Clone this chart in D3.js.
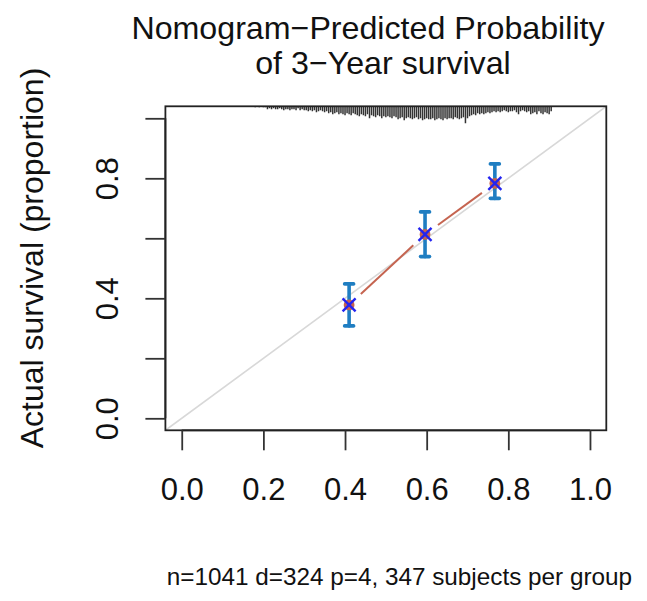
<!DOCTYPE html>
<html><head><meta charset="utf-8">
<script src="https://cdn.jsdelivr.net/npm/d3@7/dist/d3.min.js"></script>
<style>body{margin:0;background:#fff} svg{display:block}</style>
</head><body><svg id="c" width="647" height="601"></svg>
<script>
// ---- data ----
const predicted = [0.410, 0.596, 0.767];
const observed  = [0.378, 0.613, 0.783];
const lowerCI   = [0.308, 0.539, 0.733];
const upperCI   = [0.448, 0.688, 0.848];
const corrected = [0.378, 0.613, 0.783];
const xTicks = [0, 0.2, 0.4, 0.6, 0.8, 1.0];
const xTickLabels = ["0.0", "0.2", "0.4", "0.6", "0.8", "1.0"];
const yTicks = [0, 0.2, 0.4, 0.6, 0.8, 1.0];
const yTickLabels = ["0.0", "", "0.4", "", "0.8", ""];
const rugPred = [
 0.160,0.165,0.170,0.175,0.180,0.185,0.190,0.195,0.200,0.205,
 0.210,0.215,0.220,0.225,0.230,0.235,0.240,0.245,0.250,0.255,
 0.260,0.265,0.270,0.275,0.280,0.285,0.290,0.295,0.300,0.305,
 0.310,0.315,0.320,0.325,0.330,0.335,0.340,0.345,0.350,0.355,
 0.360,0.365,0.370,0.375,0.380,0.385,0.390,0.395,0.400,0.405,
 0.410,0.415,0.420,0.425,0.430,0.435,0.440,0.445,0.450,0.455,
 0.460,0.465,0.470,0.475,0.480,0.485,0.490,0.495,0.500,0.505,
 0.510,0.515,0.520,0.525,0.530,0.535,0.540,0.545,0.550,0.555,
 0.560,0.565,0.570,0.575,0.580,0.585,0.590,0.595,0.600,0.605,
 0.610,0.615,0.620,0.625,0.630,0.635,0.640,0.645,0.650,0.655,
 0.660,0.665,0.670,0.675,0.680,0.685,0.690,0.695,0.700,0.705,
 0.710,0.715,0.720,0.725,0.730,0.735,0.740,0.745,0.750,0.755,
 0.760,0.765,0.770,0.775,0.780,0.785,0.790,0.795,0.800,0.805,
 0.810,0.815,0.820,0.825,0.830,0.835,0.840,0.845,0.850,0.855,
 0.860,0.865,0.870,0.875,0.880,0.885,0.890,0.895,0.900,0.905];
const rugCount = [
 0.5,0.5,0.5,0.5,1,0.5,1,0.5,1,1,
 3,2,3,2,3,3,2,3,4,3,
 3,4,3,3,4,2,4,3,4,4,
 5,4,5,4,6,5,4,5,6,5,
 7,6,8,7,6,8,7,8,9,7,
 8,9,7,8,9,10,8,9,10,8,
 12,9,10,11,9,10,12,10,11,10,
 11,12,10,11,13,12,11,14,12,11,
 12,13,12,11,13,12,14,13,12,13,
 13,12,14,13,12,13,14,12,13,12,
 12,13,11,12,13,12,11,17,12,10,
 9,8,9,7,8,7,8,7,6,7,
 6,5,6,5,6,5,4,5,6,5,
 5,4,6,8,5,4,5,6,5,8,
 7,6,8,5,7,8,6,7,8,5];
const titleLines = ["Nomogram\u2212Predicted Probability", "of 3\u2212Year survival"];
const yTitle = "Actual survival (proportion)";
const subTitle = "n=1041 d=324 p=4, 347 subjects per group";

// ---- drawing ----
const svg = d3.select("#c");
const FONT = "'Liberation Sans', Arial, Helvetica, sans-serif";
const x = d3.scaleLinear().domain([-0.04, 1.04]).range([165.4, 606.3]);
const y = d3.scaleLinear().domain([-0.04, 1.04]).range([430.3, 106.3]);

svg.append("defs").append("clipPath").attr("id", "clip")
  .append("rect").attr("x", x(-0.04)).attr("y", y(1.04))
  .attr("width", x(1.04) - x(-0.04)).attr("height", y(-0.04) - y(1.04));

const plot = svg.append("g").attr("clip-path", "url(#clip)");

// diagonal reference
plot.append("line")
  .attr("x1", x(-0.04)).attr("y1", y(-0.04))
  .attr("x2", x(1.04)).attr("y2", y(1.04))
  .attr("stroke", "#d8d8d8").attr("stroke-width", 1.6);

// rug (scat1d on top side)
const rugH = d3.scaleLinear().domain([0, d3.max(rugCount)]).range([0, 17]);
plot.append("g").selectAll("line").data(rugPred).join("line")
  .attr("x1", d => x(d)).attr("x2", d => x(d))
  .attr("y1", y(1.04)).attr("y2", (d, i) => y(1.04) + rugH(rugCount[i]))
  .attr("stroke", "#333").attr("stroke-width", 1.5);

// connecting line with gaps (type "b")
const pts = predicted.map((p, i) => [x(p), y(observed[i])]);
const gap = 16;
for (let i = 0; i < pts.length - 1; i++) {
  const [x1, y1] = pts[i], [x2, y2] = pts[i + 1];
  const L = Math.hypot(x2 - x1, y2 - y1);
  const ux = (x2 - x1) / L, uy = (y2 - y1) / L;
  plot.append("line")
    .attr("x1", x1 + ux * gap).attr("y1", y1 + uy * gap)
    .attr("x2", x2 - ux * gap).attr("y2", y2 - uy * gap)
    .attr("stroke", "#c56450").attr("stroke-width", 2);
}

// error bars
const eb = plot.append("g").attr("stroke", "#1f7ec2").attr("stroke-width", 3.6)
  .attr("stroke-linecap", "round");
predicted.forEach((p, i) => {
  eb.append("line").attr("x1", x(p)).attr("x2", x(p))
    .attr("y1", y(lowerCI[i])).attr("y2", y(upperCI[i]));
  [lowerCI[i], upperCI[i]].forEach(v => {
    eb.append("line").attr("x1", x(p) - 4.5).attr("x2", x(p) + 4.5)
      .attr("y1", y(v)).attr("y2", y(v));
  });
});

// apparent points
plot.append("g").selectAll("circle").data(predicted).join("circle")
  .attr("cx", d => x(d)).attr("cy", (d, i) => y(observed[i])).attr("r", 5.4)
  .attr("fill", "#c8634c");

// bias-corrected X markers
const xm = plot.append("g").attr("stroke", "#2424f0").attr("stroke-width", 2.4);
predicted.forEach((p, i) => {
  const cx = x(p), cy = y(corrected[i]), s = 6.5;
  xm.append("line").attr("x1", cx - s).attr("y1", cy - s).attr("x2", cx + s).attr("y2", cy + s);
  xm.append("line").attr("x1", cx - s).attr("y1", cy + s).attr("x2", cx + s).attr("y2", cy - s);
});

// box
svg.append("rect").attr("x", x(-0.04)).attr("y", y(1.04))
  .attr("width", x(1.04) - x(-0.04)).attr("height", y(-0.04) - y(1.04))
  .attr("fill", "none").attr("stroke", "#222").attr("stroke-width", 1.8);

// x axis
const xAxis = d3.axisBottom(x).tickValues(xTicks).tickSize(20)
  .tickFormat((d, i) => xTickLabels[i]).tickPadding(30);
const gx = svg.append("g").attr("transform", `translate(0,${y(-0.04)})`).call(xAxis);
gx.select(".domain").attr("d", `M${x(0)},0H${x(1)}`).attr("stroke", "#222").attr("stroke-width", 1.8);
gx.selectAll(".tick line").attr("stroke", "#333").attr("stroke-width", 1.8);
gx.selectAll(".tick text").attr("font-family", FONT).attr("font-size", 31)
  .attr("fill", "#111").attr("dy", null).attr("y", 500 - y(-0.04));

// y axis
const yAxis = d3.axisLeft(y).tickValues(yTicks).tickSize(20)
  .tickFormat((d, i) => yTickLabels[i]);
const gy = svg.append("g").attr("transform", `translate(${x(-0.04)},0)`).call(yAxis);
gy.select(".domain").attr("d", `M0,${y(0)}V${y(1)}`).attr("stroke", "#222").attr("stroke-width", 1.8);
gy.selectAll(".tick line").attr("stroke", "#333").attr("stroke-width", 1.8);
gy.selectAll(".tick text").attr("font-family", FONT).attr("font-size", 31)
  .attr("fill", "#111").attr("x", null).attr("dy", null)
  .attr("text-anchor", "middle")
  .attr("transform", `translate(${118 - x(-0.04)},0) rotate(-90)`);

// titles
svg.append("text").attr("x", 368).attr("y", 38.5).attr("text-anchor", "middle")
  .attr("font-family", FONT).attr("font-size", 32.2).attr("fill", "#111").text(titleLines[0]);
svg.append("text").attr("x", 383).attr("y", 74).attr("text-anchor", "middle")
  .attr("font-family", FONT).attr("font-size", 32.2).attr("fill", "#111").text(titleLines[1]);

svg.append("text").attr("transform", "translate(43,258) rotate(-90)")
  .attr("text-anchor", "middle").attr("font-family", FONT).attr("font-size", 32)
  .attr("fill", "#111").text(yTitle);

svg.append("text").attr("x", 166.7).attr("y", 585).attr("text-anchor", "start")
  .attr("font-family", FONT).attr("font-size", 24.3).attr("fill", "#111").text(subTitle);
</script></body></html>
